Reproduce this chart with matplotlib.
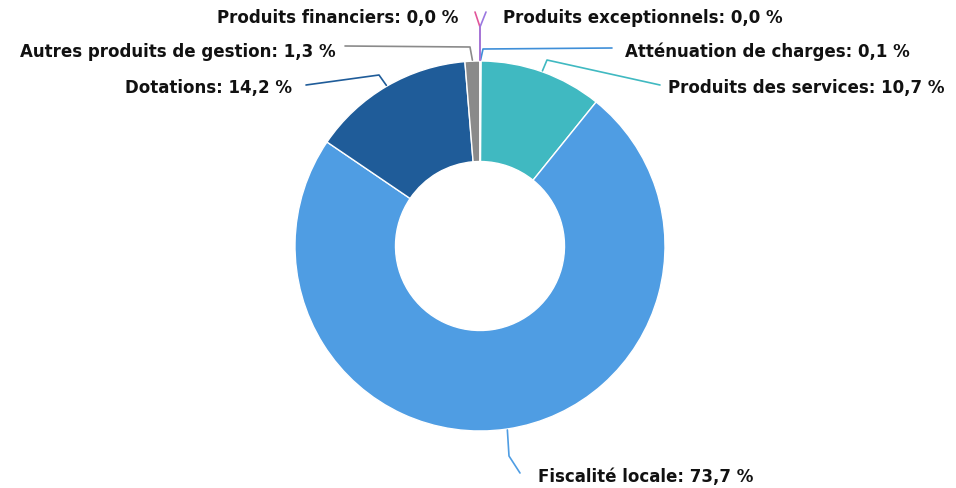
import numpy as np
import matplotlib
matplotlib.use('Agg')
import matplotlib.pyplot as plt

# --- DATA ---
labels = ['Atténuation de charges', 'Produits des services', 'Fiscalité locale',
          'Dotations', 'Autres produits de gestion', 'Produits financiers',
          'Produits exceptionnels']
values = [0.1, 10.7, 73.7, 14.2, 1.3, 0.0, 0.0]
colors = ['#3f8fd8', '#40b9c1', '#4f9de3', '#1f5c99', '#8a8a8a', '#e2559a', '#9b78e0']

# --- LAYOUT (pixel coords, y measured from top) ---
W, H = 956, 489
CX, CY = 480, 247
R_OUT, R_IN = 185, 84.5

# label anchor (x, y, ha) and connector elbows for each slice
label_pos = {
    'Atténuation de charges': (625, 52, 'left', [(483, 50), (612, 49)]),
    'Produits des services': (668, 88, 'left', [(547, 61), (660, 86)]),
    'Fiscalité locale': (538, 477, 'left', [(509, 457), (520, 474)]),
    'Dotations': (292, 88, 'right', [(379, 76), (306, 86)]),
    'Autres produits de gestion': (336, 52, 'right', [(470, 48), (345, 47)]),
    'Produits financiers': (458, 18, 'right', [(480, 28), (475, 13)]),
    'Produits exceptionnels': (503, 18, 'left', [(480, 28), (486, 13)]),
}

fig = plt.figure(figsize=(W / 100, H / 100), dpi=100)
ax = fig.add_axes([0, 0, 1, 1])

wedges, _ = ax.pie(values, colors=colors, startangle=90, counterclock=False,
                   center=(CX, H - CY), radius=R_OUT,
                   wedgeprops=dict(width=R_OUT - R_IN, edgecolor='white', linewidth=1))
ax.set_xlim(0, W)
ax.set_ylim(0, H)
ax.set_aspect('equal')
ax.axis('off')

for w, name, val, col in zip(wedges, labels, values, colors):
    mid = np.deg2rad((w.theta1 + w.theta2) / 2)
    sx = CX + (R_OUT + 1) * np.cos(mid)
    sy = CY - (R_OUT + 1) * np.sin(mid)
    tx, ty, ha, elbows = label_pos[name]
    pts = [(sx, sy)] + elbows
    xs = [p[0] for p in pts]
    ys = [H - p[1] for p in pts]
    ax.plot(xs, ys, color=col, lw=1.2, solid_capstyle='round')
    txt = f"{name}: {val:.1f} %".replace('.', ',')
    ax.text(tx, H - ty, txt, ha=ha, va='center', fontsize=12,
            fontweight='bold', color='#111111', family='DejaVu Sans')

fig.savefig('out.png', dpi=100)
